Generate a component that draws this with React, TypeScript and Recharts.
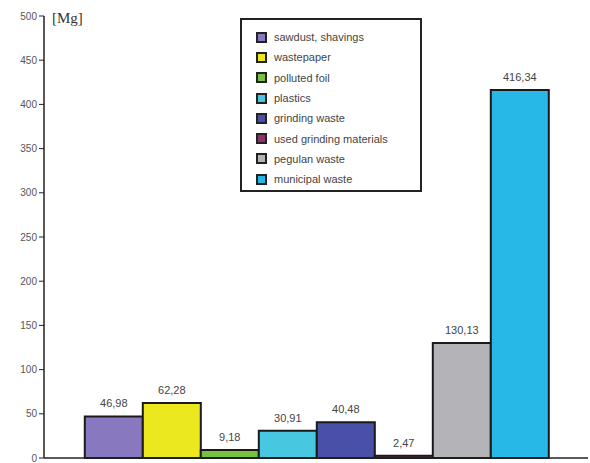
import { BarChart, Bar, XAxis, YAxis, LabelList } from 'recharts';

const seriesNames = [
  'sawdust, shavings',
  'wastepaper',
  'polluted foil',
  'plastics',
  'grinding waste',
  'used grinding materials',
  'pegulan waste',
  'municipal waste',
];
const seriesValues = [46.98, 62.28, 9.18, 30.91, 40.48, 2.47, 130.13, 416.34];
const seriesColors = ['#8878c0', '#ece820', '#78c040', '#48c8e0', '#4850a8', '#903070', '#b4b4b8', '#28b8e8'];
const yTicks = [0, 50, 100, 150, 200, 250, 300, 350, 400, 450, 500];

const row: Record<string, string | number> = { name: 'waste' };
seriesNames.forEach((n, i) => {
  row['s' + i] = seriesValues[i];
});
const data = [row];

const fmt = (v: any) => Number(v).toFixed(2).replace('.', ',');

// legend drawn as html on top of the chart, so it does not shrink the plot
function LegendBox() {
  return (
    <div
      style={{
        position: 'absolute',
        left: 240,
        top: 18,
        border: '2px solid #222',
        background: '#fff',
        padding: '7px 0 0 14px',
        boxSizing: 'border-box',
        width: 182,
        height: 174,
        fontFamily: '"Liberation Sans", Arial, sans-serif',
        fontSize: 11,
        color: '#444',
      }}
    >
      {seriesNames.map((n, i) => (
        <div key={n} style={{ display: 'flex', alignItems: 'center', height: 20.3 }}>
          <span
            style={{
              display: 'inline-block',
              width: 7,
              height: 7,
              border: '2px solid #222',
              background: seriesColors[i],
              marginRight: 7,
            }}
          />
          {n}
        </div>
      ))}
    </div>
  );
}

export default function App() {
  return (
    <div style={{ position: 'absolute', left: 0, top: 0, width: 590, height: 463, background: '#fff' }}>
      <BarChart
        width={590}
        height={463}
        data={data}
        margin={{ top: 16, right: 2, bottom: 4, left: 0 }}
        barCategoryGap="7.5%"
        barGap={0}
      >
        <XAxis dataKey="name" tick={false} tickLine={false} axisLine={{ stroke: '#222', strokeWidth: 1.5 }} height={1} />
        <YAxis
          domain={[0, 500]}
          ticks={yTicks}
          interval={0}
          width={44}
          tickSize={5}
          tickLine={{ stroke: '#222' }}
          axisLine={{ stroke: '#222', strokeWidth: 1.5 }}
          tick={{ fill: '#555', fontSize: 10, fontFamily: '"Liberation Sans", Arial, sans-serif' }}
        />
        {seriesNames.map((n, i) => (
          <Bar
            key={n}
            dataKey={'s' + i}
            name={n}
            fill={seriesColors[i]}
            stroke="#1a1a1a"
            strokeWidth={2}
            isAnimationActive={false}
          >
            <LabelList
              dataKey={'s' + i}
              position="top"
              offset={9}
              formatter={fmt}
              style={{ fill: '#444', fontSize: 11, fontFamily: '"Liberation Sans", Arial, sans-serif' }}
            />
          </Bar>
        ))}
      </BarChart>
      <LegendBox />
      <div
        style={{
          position: 'absolute',
          left: 52,
          top: 10,
          fontFamily: '"Liberation Serif", "Times New Roman", serif',
          fontSize: 15,
          color: '#333',
        }}
      >
        [Mg]
      </div>
    </div>
  );
}
